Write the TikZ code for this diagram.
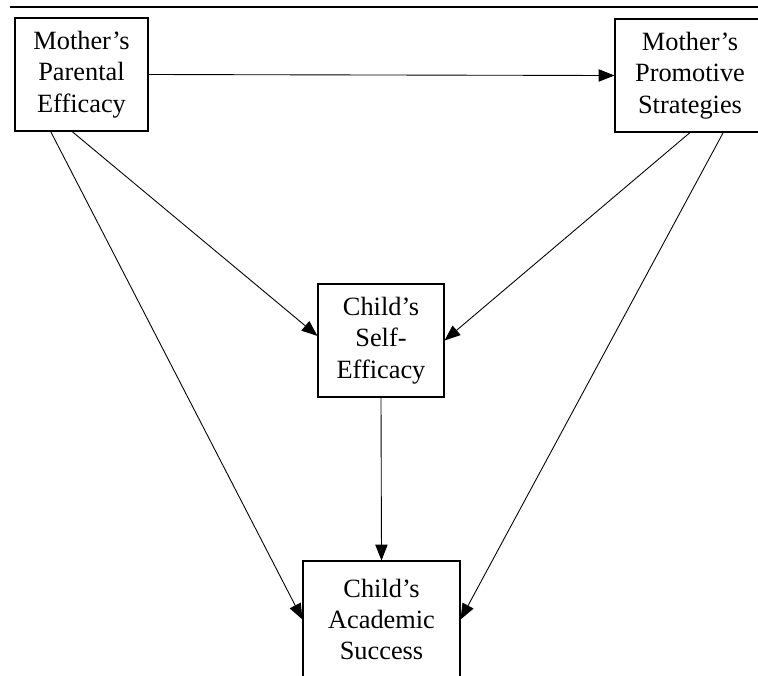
\documentclass[tikz,border=0pt]{standalone}
\usepackage{fontspec}
\setmainfont{Liberation Serif}
\usetikzlibrary{arrows.meta, positioning}
\usetikzlibrary{calc}

\begin{document}
\begin{tikzpicture}
    \useasboundingbox (0,0) rectangle (15.16,-13.5);
    % Setup the style for the boxes
        \tikzset{box style/.style={rectangle,
                                   draw,
                                   line width=0.6pt,
                                   minimum height=2.26cm,
                                   inner sep=0pt,
                                   align=center,
                                   font=\fontsize{15}{17.8}\selectfont}}

        % Rule at the top
        \draw[line width=1.2pt] (0.2,-0.14) -- (15.16,-0.14);

        % Draw the boxes
        \node[box style, minimum width=2.66cm] at (1.63, -1.49)  (parent)   {Mother's\\Parental\\Efficacy};
        \node[box style, minimum width=3.0cm]  at (13.8, -1.51)  (promote)  {Mother's\\Promotive\\Strategies};
        \node[box style, minimum width=2.52cm] at (7.62, -6.81)  (selfeff)  {Child's\\Self-\\Efficacy};
        \node[box style, minimum width=3.14cm, minimum height=2.34cm] at (7.63, -12.39) (success) {Child's\\Academic\\Success};

        % Connect the boxes with arrows
        \draw[line width=0.5pt,
              >={Triangle[length=9pt,width=7pt]}]
            (parent.east)  edge[->] (promote.west)
            ($(parent.south west)!0.43!(parent.south east)$) edge[->] ($(selfeff.north west)!0.46!(selfeff.south west)$)
            ($(parent.south west)!0.27!(parent.south east)$) edge[->] (success.west)
            (promote.south) edge[->] (selfeff.east)
            ($(promote.south west)!0.72!(promote.south east)$) edge[->] (success.east)
            (selfeff.south) edge[->] (success.north);
\end{tikzpicture}
\end{document}
